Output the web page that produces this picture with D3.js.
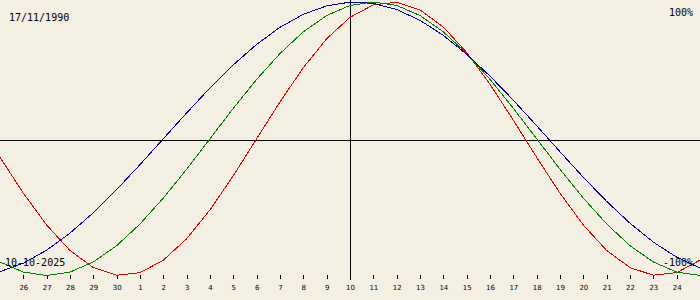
<!DOCTYPE html>
<html lang="en">
  <head>
    <meta charset="UTF-8" />
    <title>Biorhythm</title>
    <script src="https://d3js.org/d3.v7.min.js"></script>
    <style>
      body {
        margin: 0;
        overflow: hidden;
        background: #f3efe3;
      }
      svg {
        display: block;
      }
      .lbl {
        font-family: "DejaVu Sans Mono", monospace;
        font-size: 10px;
        fill: #000;
      }
      .curve {
        fill: none;
        stroke-width: 1;
        shape-rendering: crispEdges;
      }
      .axis text {
        font-family: "DejaVu Sans", sans-serif;
        font-size: 7px;
      }
    </style>
  </head>
  <body>
    <svg id="chart" width="700" height="300"></svg>

    <script>
      // days shown: 25 Sep .. 25 Oct 2025 (centre = 10 Oct)
      const dayLabels = [
        "25", "26", "27", "28", "29", "30",
        "1", "2", "3", "4", "5", "6", "7", "8", "9", "10",
        "11", "12", "13", "14", "15", "16", "17", "18", "19", "20",
        "21", "22", "23", "24", "25"
      ];

      // physical (red), -1..1
      const physical = [
        -0.136, -0.398, -0.631, -0.817, -0.942, -0.998, -0.979, -0.888,
        -0.731, -0.520, -0.270, 0.000, 0.270, 0.520, 0.731, 0.888,
        0.979, 0.998, 0.942, 0.817, 0.631, 0.398, 0.136, -0.136,
        -0.398, -0.631, -0.817, -0.942, -0.998, -0.979, -0.888
      ];

      // emotional (green)
      const emotional = [
        -0.901, -0.975, -1.000, -0.975, -0.901, -0.782, -0.623, -0.434,
        -0.223, 0.000, 0.223, 0.434, 0.623, 0.782, 0.901, 0.975,
        1.000, 0.975, 0.901, 0.782, 0.623, 0.434, 0.223, 0.000,
        -0.223, -0.434, -0.623, -0.782, -0.901, -0.975, -1.000
      ];

      // intellectual (blue)
      const intellectual = [
        -0.972, -0.910, -0.815, -0.690, -0.541, -0.372, -0.189, 0.000,
        0.189, 0.372, 0.541, 0.690, 0.815, 0.910, 0.972, 0.999,
        0.990, 0.945, 0.866, 0.756, 0.618, 0.458, 0.282, 0.095,
        -0.095, -0.282, -0.458, -0.618, -0.756, -0.866, -0.945
      ];

      const birthDate = "17/11/1990";
      const currentDate = "10-10-2025";

      const width = 700;
      const svg = d3.select("#chart");

      const x = d3.scaleLinear().domain([0, dayLabels.length - 1]).range([0, width]);
      const y = d3.scaleLinear().domain([-1, 1]).range([275.5, 2]);

      // zero line and centre (today) line
      svg.append("line")
        .attr("x1", 0).attr("x2", width)
        .attr("y1", 140.5).attr("y2", 140.5)
        .attr("stroke", "#000")
        .attr("shape-rendering", "crispEdges");

      svg.append("line")
        .attr("x1", 350.5).attr("x2", 350.5)
        .attr("y1", 0).attr("y2", 280)
        .attr("stroke", "#000")
        .attr("shape-rendering", "crispEdges");

      // day ticks along the bottom
      const tickIdx = d3.range(1, dayLabels.length - 1);
      const axis = d3.axisBottom(x)
        .tickValues(tickIdx)
        .tickSize(4)
        .tickPadding(6.5)
        .tickFormat(i => dayLabels[i]);

      const gAxis = svg.append("g")
        .attr("class", "axis")
        .attr("transform", "translate(0,275)")
        .call(axis);
      gAxis.select(".domain").remove();
      gAxis.selectAll("line").attr("shape-rendering", "crispEdges");

      // the three curves
      const line = d3.line()
        .x((d, i) => x(i))
        .y(d => y(d));

      const series = [
        { values: physical, color: "#e00000" },
        { values: emotional, color: "#008000" },
        { values: intellectual, color: "#0000a0" }
      ];

      svg.selectAll("path.curve")
        .data(series)
        .enter()
        .append("path")
        .attr("class", "curve")
        .attr("stroke", d => d.color)
        .attr("d", d => line(d.values));

      // corner labels
      svg.append("text").attr("class", "lbl")
        .attr("x", 9).attr("y", 20.5)
        .text(birthDate);

      svg.append("text").attr("class", "lbl")
        .attr("x", 693).attr("y", 16)
        .attr("text-anchor", "end")
        .text("100%");

      svg.append("text").attr("class", "lbl")
        .attr("x", 5).attr("y", 266)
        .text(currentDate);

      svg.append("text").attr("class", "lbl")
        .attr("x", 693).attr("y", 266)
        .attr("text-anchor", "end")
        .text("-100%");
    </script>
  </body>
</html>
